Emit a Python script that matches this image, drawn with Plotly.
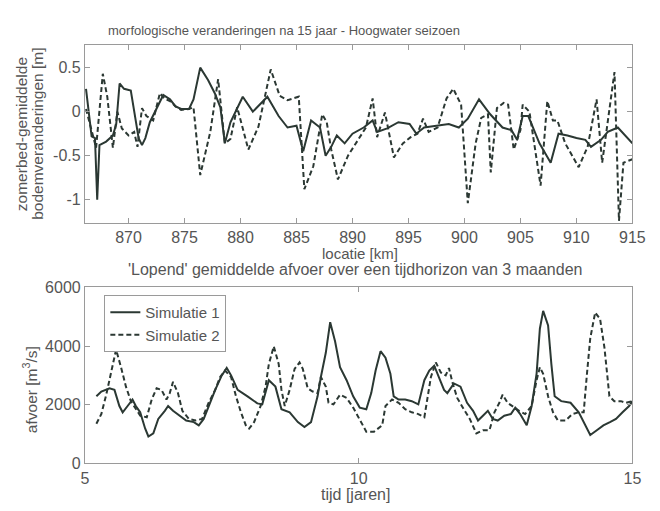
import plotly.graph_objects as go

# ---------- top panel: morphological change along the river ----------
km_sim1 = [866.2, 866.7, 867.0, 867.2, 867.4, 868.0, 868.6, 868.9, 869.2, 869.6, 870.2, 870.6,
           870.9, 871.2, 871.5, 871.9, 872.5, 873.1, 873.7, 874.2, 874.7, 875.4, 875.8, 876.4,
           877.1, 877.7, 878.2, 878.6, 879.1, 880.2, 881.1, 882.4, 883.4, 884.2, 885.0, 885.6,
           886.3, 887.1, 887.6, 888.1, 888.6, 889.3, 890.0, 891.0, 891.8, 892.2, 893.1, 894.1,
           895.1, 895.7, 896.4, 897.4, 898.6, 899.5, 900.3, 901.3, 902.3, 903.4, 904.2, 904.7,
           905.2, 905.7, 906.7, 907.7, 908.4, 909.2, 910.0, 910.8, 911.3, 912.2, 912.8, 913.7,
           914.7, 915.0]
dz_sim1 = [0.26, -0.28, -0.30, -1.00, -0.38, -0.34, -0.27, -0.14, 0.32, 0.26, 0.24, -0.05,
           -0.30, -0.38, -0.30, -0.12, 0.03, 0.19, 0.14, 0.06, 0.03, 0.03, 0.14, 0.50,
           0.36, 0.21, 0.05, -0.36, -0.12, 0.17, 0.00, 0.17, -0.05, -0.18, -0.16, -0.45,
           -0.10, -0.18, -0.50, -0.40, -0.27, -0.36, -0.25, -0.18, -0.10, -0.23, -0.19, -0.12,
           -0.14, -0.25, -0.18, -0.16, -0.14, -0.18, -0.08, 0.14, -0.03, -0.18, -0.21, -0.32,
           -0.05, -0.05, -0.36, -0.58, -0.25, -0.27, -0.30, -0.32, -0.40, -0.32, -0.23, -0.18,
           -0.32, -0.36]

km_sim2 = [866.2, 866.7, 867.1, 867.7, 868.1, 868.6, 869.0, 869.4, 870.0, 870.5, 870.8, 871.2,
           871.6, 872.2, 872.8, 873.2, 873.7, 874.2, 874.7, 875.4, 875.8, 876.4, 877.3, 878.0,
           878.6, 879.1, 879.7, 880.7, 881.6, 882.7, 883.5, 884.2, 885.2, 885.7, 886.5, 887.3,
           887.7, 888.1, 888.7, 889.6, 890.3, 891.2, 891.8, 892.2, 892.9, 893.7, 894.5, 895.2,
           895.8, 896.3, 896.8, 897.6, 898.4, 899.0, 899.7, 900.3, 901.0, 901.5, 902.1, 902.35,
           902.9, 903.5, 903.9, 904.4, 905.0, 905.2, 905.8, 906.8, 907.4, 907.9, 908.3, 909.0,
           910.2, 911.0, 911.8, 912.3, 913.4, 913.8, 914.2, 915.0]
dz_sim2 = [0.03, -0.23, -0.41, 0.43, 0.17, -0.41, 0.00, -0.19, -0.27, -0.23, -0.40, 0.04,
           -0.05, -0.10, 0.21, 0.15, 0.12, 0.06, 0.02, 0.03, 0.05, -0.72, -0.23, 0.37,
           -0.36, -0.31, 0.05, -0.43, -0.17, 0.48, 0.18, 0.13, 0.17, -0.88, -0.62, -0.03,
           -0.12, -0.43, -0.77, -0.50, -0.36, -0.18, 0.15, -0.29, -0.01, -0.52, -0.36, -0.29,
           -0.25, -0.08, -0.23, -0.18, 0.15, 0.26, 0.08, -1.04, -0.36, -0.07, -0.03, -0.69,
           0.04, 0.10, 0.08, -0.43, -0.21, 0.08, 0.00, -0.84, 0.12, -0.10, -0.10, -0.36,
           -0.63, -0.40, 0.14, -0.58, 0.45, -1.24, -0.58, -0.54]

km_ticks = [870, 875, 880, 885, 890, 895, 900, 905, 910, 915]
dz_ticks = [-1, -0.5, 0, 0.5]
dz_ticktext = ["-1", "-0.5", "0", "0.5"]

# ---------- bottom panel: running mean discharge ----------
t_sim1 = [5.21, 5.30, 5.45, 5.54, 5.63, 5.69, 5.78, 5.87, 5.93, 6.01, 6.10, 6.16, 6.25, 6.34,
          6.46, 6.52, 6.61, 6.73, 6.85, 6.99, 7.08, 7.17, 7.29, 7.38, 7.50, 7.59, 7.67, 7.79,
          7.97, 8.15, 8.24, 8.36, 8.48, 8.59, 8.74, 8.89, 9.01, 9.13, 9.25, 9.31, 9.40, 9.48,
          9.57, 9.66, 9.78, 9.90, 10.02, 10.14, 10.23, 10.31, 10.40, 10.49, 10.58, 10.64, 10.73,
          10.85, 10.97, 11.09, 11.20, 11.29, 11.38, 11.47, 11.56, 11.62, 11.74, 11.86, 11.98,
          12.09, 12.18, 12.27, 12.36, 12.45, 12.54, 12.66, 12.78, 12.86, 12.95, 13.07, 13.16,
          13.25, 13.31, 13.37, 13.46, 13.52, 13.58, 13.70, 13.87, 14.02, 14.14, 14.23, 14.35,
          14.47, 14.59, 14.70, 14.82, 14.94, 15.00]
q_sim1 = [2285, 2450, 2560, 2505, 1955, 1740, 1955, 2175, 1955, 1740, 1190, 915, 1020, 1515,
          1790, 1955, 1790, 1625, 1460, 1405, 1295, 1515, 2120, 2505, 3000, 3255, 3000, 2505,
          2285, 2045, 2010, 2835, 2615, 1845, 1740, 1405, 1240, 1405, 2285, 2945, 3770, 4815,
          4155, 3275, 2835, 2285, 1900, 1845, 2395, 3165, 3825, 3605, 3055, 2285, 2175,
          2175, 2120, 2010, 2835, 3165, 3330, 2945, 2505, 2395, 2725, 2615, 2065,
          1790, 1460, 1625, 1790, 1515, 1460, 1625, 1680, 1900, 1680, 1295, 1955,
          3055, 4590, 5200, 4705, 3385, 2285, 2120, 2065, 1740, 1295, 965, 1130,
          1295, 1405, 1515, 1740, 1955, 2120]

t_sim2 = [5.21, 5.30, 5.39, 5.48, 5.57, 5.66, 5.75, 5.84, 5.93, 6.01, 6.13, 6.22, 6.31, 6.40,
          6.49, 6.55, 6.61, 6.70, 6.78, 6.90, 7.02, 7.14, 7.26, 7.38, 7.47, 7.56, 7.67, 7.76,
          7.85, 7.94, 8.00, 8.09, 8.21, 8.30, 8.36, 8.45, 8.54, 8.59, 8.65, 8.74, 8.83, 8.92,
          8.98, 9.07, 9.16, 9.25, 9.31, 9.40, 9.45, 9.54, 9.66, 9.78, 9.90, 10.02, 10.14, 10.28,
          10.43, 10.49, 10.61, 10.73, 10.85, 10.97, 11.09, 11.20, 11.26, 11.32, 11.41, 11.50,
          11.59, 11.65, 11.71, 11.80, 11.92, 12.03, 12.15, 12.27, 12.39, 12.48, 12.57, 12.63,
          12.72, 12.84, 12.93, 13.04, 13.16, 13.25, 13.31, 13.37, 13.46, 13.55, 13.64, 13.78,
          13.90, 14.02, 14.11, 14.17, 14.23, 14.32, 14.41, 14.49, 14.58, 14.67, 14.79, 14.88,
          15.00]
q_sim2 = [1350, 1680, 2340, 3165, 3880, 3275, 2615, 2120, 1845, 1625, 1570, 2175, 2560, 2505,
          2175, 2395, 2780, 2395, 1790, 1515, 1460, 1515, 2065, 2505, 2945, 3165, 2945, 2285,
          1740, 1295, 1185, 1405, 1955, 2615, 3385, 3990, 3385, 2505, 1955, 2505, 3220, 3440,
          3220, 2560, 2450, 2395, 2945, 2615, 2065, 2010, 2340, 2230, 1900, 1515, 1080, 1080,
          1295, 1955, 2175, 2065, 1845, 1740, 1680, 1570, 2285, 2945, 3440, 3100,
          3000, 3250, 2780, 2230, 1845, 1515, 1020, 1130, 1130, 1740, 2065, 2340,
          2065, 1900, 1790, 1680, 1955, 2835, 3275, 3055, 2285, 1740, 1460, 1460,
          1680, 1740, 1740, 3055, 4265, 5145, 4920, 3935, 2285, 2120, 2120, 2065,
          2120]

t_ticks = [5, 10, 15]
q_ticks = [0, 2000, 4000, 6000]

series_names = ["Simulatie 1", "Simulatie 2"]

LINE = "#2b3833"
TXT = "#555555"
AX = "#9a9a9a"
FONT = "Liberation Sans, Arial, sans-serif"

fig = go.Figure()
fig.add_trace(go.Scatter(x=km_sim1, y=dz_sim1, mode="lines", xaxis="x", yaxis="y",
                         line=dict(color=LINE, width=2), showlegend=False))
fig.add_trace(go.Scatter(x=km_sim2, y=dz_sim2, mode="lines", xaxis="x", yaxis="y",
                         line=dict(color=LINE, width=2, dash="5px,3px"), showlegend=False))
fig.add_trace(go.Scatter(x=t_sim1, y=q_sim1, mode="lines", xaxis="x2", yaxis="y2",
                         name=series_names[0], line=dict(color=LINE, width=2)))
fig.add_trace(go.Scatter(x=t_sim2, y=q_sim2, mode="lines", xaxis="x2", yaxis="y2",
                         name=series_names[1], line=dict(color=LINE, width=2, dash="5px,3px")))

axis_common = dict(showgrid=False, zeroline=False, showline=True, linecolor=AX, linewidth=1,
                   mirror="ticks", ticks="inside", ticklen=5, tickcolor=AX,
                   tickfont=dict(family=FONT, size=16, color=TXT))


def label(text, x, y, size, angle=0):
    return dict(text=text, x=x / 660, y=1 - y / 511, xref="paper", yref="paper",
                xanchor="center", yanchor="middle", showarrow=False, textangle=angle,
                font=dict(family=FONT, size=size, color=TXT))


fig.update_layout(
    width=660, height=511, autosize=False,
    margin=dict(l=0, r=0, t=0, b=0),
    paper_bgcolor="white", plot_bgcolor="white",
    font=dict(family=FONT, color=TXT),
    xaxis=dict(domain=[0.1258, 0.9773], anchor="y", range=[866.1, 915.0],
               tickvals=km_ticks, **axis_common),
    yaxis=dict(domain=[0.5656, 0.9256], anchor="x", range=[-1.26, 0.76],
               tickvals=dz_ticks, ticktext=dz_ticktext, **axis_common),
    xaxis2=dict(domain=[0.1258, 0.9773], anchor="y2", range=[5, 15],
                tickvals=t_ticks, **axis_common),
    yaxis2=dict(domain=[0.0783, 0.4344], anchor="x2", range=[0, 6000],
                tickvals=q_ticks, **axis_common),
    legend=dict(x=103 / 660, y=1 - 297 / 511, xanchor="left", yanchor="top",
                bordercolor=AX, borderwidth=1, bgcolor="white",
                font=dict(family=FONT, size=15, color=TXT), tracegroupgap=0),
    annotations=[
        label("morfologische veranderingen na 15 jaar - Hoogwater seizoen", 287, 23, 13),
        label("locatie [km]", 365, 254, 15),
        label("'Lopend' gemiddelde afvoer over een tijdhorizon van 3 maanden", 360, 271, 16),
        label("tijd [jaren]", 361, 503, 16),
        label("zomerbed-gemiddelde", 18, 131, 15.5, -90),
        label("bodemveranderingen [m]", 35, 130, 15.5, -90),
        label("afvoer [m<sup>3</sup>/s]", 27, 395, 15.5, -90),
    ],
)

fig.write_html(
    "out.html",
    post_script=(
        "document.documentElement.style.margin='0';"
        "document.body.style.margin='0';"
        "document.body.style.overflow='hidden';"
    ),
)
